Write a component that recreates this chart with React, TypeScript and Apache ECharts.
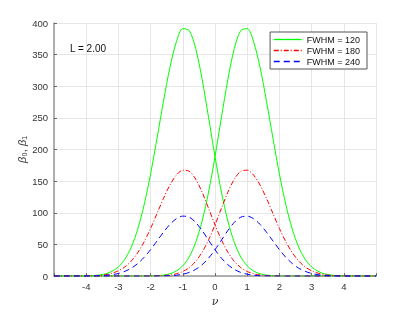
import React, { useEffect, useRef } from "react";
import * as echarts from "echarts";

const nu = [
  -5, -4.8, -4.6, -4.4, -4.2, -4, -3.8, -3.6, -3.4, -3.2, -3, -2.8, -2.6, -2.4, -2.2, -2, -1.8, -1.6, -1.4, -1.2, -1,
  -0.8, -0.6, -0.4, -0.2, 0, 0.2, 0.4, 0.6, 0.8, 1, 1.2, 1.4, 1.6, 1.8, 2, 2.2, 2.4, 2.6, 2.8, 3, 3.2, 3.4, 3.6, 3.8,
  4, 4.2, 4.4, 4.6, 4.8, 5,
];

const green0 = [
  0, 0, 0, 0, 0.1, 0.3, 0.7, 1.7, 3.6, 7.5, 14.5, 26.6, 45.7, 74.1, 112.8, 161.6, 217.8, 276.3, 329.7, 370.2, 391.1,
  388.1, 359.7, 311.0, 250.9, 188.9, 132.7, 87.0, 53.2, 30.3, 16.2, 8.0, 3.7, 1.6, 0.7, 0.2, 0.1,
  0, 0, 0, 0, 0, 0, 0, 0, 0, 0, 0, 0, 0, 0,
];
const green1 = [
  0, 0, 0, 0, 0, 0, 0, 0, 0, 0, 0, 0, 0, 0,
  0.1, 0.2, 0.7, 1.6, 3.7, 8.0, 16.2, 30.3, 53.2, 87.0, 132.7, 188.9, 250.9, 311.0, 359.7, 388.1, 391.1, 370.2, 329.7,
  276.3, 217.8, 161.6, 112.8, 74.1, 45.7, 26.6, 14.5, 7.5, 3.6, 1.7, 0.7, 0.3, 0.1, 0, 0, 0, 0,
];
const red0 = [
  0, 0, 0, 0, 0.1, 0.2, 0.5, 1.1, 2.3, 4.6, 8.4, 14.5, 23.8, 37.0, 54.3, 75.3, 98.9, 122.7, 143.9, 159.6, 167.4,
  165.6, 153.3, 132.6, 107.2, 81.0, 57.2, 37.8, 23.3, 13.5, 7.3, 3.7, 1.7, 0.8, 0.3, 0.1,
  0, 0, 0, 0, 0, 0, 0, 0, 0, 0, 0, 0, 0, 0, 0,
];
const red1 = [
  0, 0, 0, 0, 0, 0, 0, 0, 0, 0, 0, 0, 0, 0, 0,
  0.1, 0.3, 0.8, 1.7, 3.7, 7.3, 13.5, 23.3, 37.8, 57.2, 81.0, 107.2, 132.6, 153.3, 165.6, 167.4, 159.6, 143.9, 122.7,
  98.9, 75.3, 54.3, 37.0, 23.8, 14.5, 8.4, 4.6, 2.3, 1.1, 0.5, 0.2, 0.1, 0, 0, 0, 0,
];
const blue0 = [
  0, 0, 0, 0, 0, 0.1, 0.2, 0.5, 1.1, 2.2, 4.2, 7.5, 12.5, 19.9, 29.7, 41.8, 55.5, 69.4, 81.7, 90.7, 94.8,
  93.1, 84.9, 72.1, 56.8, 41.7, 28.4, 18.0, 10.6, 5.8, 3.0, 1.4, 0.6, 0.3, 0.1,
  0, 0, 0, 0, 0, 0, 0, 0, 0, 0, 0, 0, 0, 0, 0, 0,
];
const blue1 = [
  0, 0, 0, 0, 0, 0, 0, 0, 0, 0, 0, 0, 0, 0, 0, 0,
  0.1, 0.3, 0.6, 1.4, 3.0, 5.8, 10.6, 18.0, 28.4, 41.7, 56.8, 72.1, 84.9, 93.1, 94.8, 90.7, 81.7, 69.4, 55.5, 41.8,
  29.7, 19.9, 12.5, 7.5, 4.2, 2.2, 1.1, 0.5, 0.2, 0.1, 0, 0, 0, 0, 0,
];

const seriesNames = ["FWHM = 120", "FWHM = 180", "FWHM = 240"];
const annotation = "L = 2.00";

const pairs = (arr: number[]) => nu.map((x, i) => [x, arr[i]]);

export default function App() {
  const ref = useRef<HTMLDivElement>(null);
  useEffect(() => {
    if (!ref.current) return;
    const chart = echarts.init(ref.current, undefined, { renderer: "svg" });
    const font = "Liberation Sans, Arial, sans-serif";
    const mk = (name: string, data: number[], color: string, type: any) => ({
      type: "line",
      name,
      data: pairs(data),
      smooth: 0.3,
      symbol: "none",
      lineStyle: { color, width: 1, type },
      itemStyle: { color },
    });
    chart.setOption({
      animation: false,
      textStyle: { fontFamily: font },
      grid: { left: 54, right: 39, top: 23, bottom: 35 },
      legend: {
        data: seriesNames,
        orient: "vertical",
        right: 48,
        top: 32,
        padding: [3, 7, 3, 3],
        itemGap: 2,
        itemWidth: 28,
        itemHeight: 9,
        borderColor: "#555",
        borderWidth: 1,
        backgroundColor: "#fff",
        itemStyle: { opacity: 0 },
        lineStyle: { width: 1.3 },
        textStyle: { fontSize: 9, color: "#111", fontFamily: font },
      },
      xAxis: {
        type: "value",
        min: -5,
        max: 5,
        interval: 1,
        name: "ν",
        nameLocation: "middle",
        nameGap: 18,
        nameTextStyle: { fontStyle: "italic", fontSize: 11, color: "#333", fontFamily: "DejaVu Serif, serif" },
        axisLine: { onZero: false, lineStyle: { color: "#999", width: 1.5 } },
        axisTick: { inside: true, length: 3, lineStyle: { color: "#666" } },
        axisLabel: {
          formatter: (v: number) => (v === -5 || v === 5 ? "" : String(v)),
          fontSize: 9.5,
          color: "#333",
          margin: 5,
          fontFamily: font,
        },
        splitLine: { show: true, lineStyle: { color: "#e6e6e6" } },
      },
      yAxis: {
        type: "value",
        min: 0,
        max: 400,
        interval: 50,
        name: "{i|β}₀, {i|β}₁",
        nameLocation: "middle",
        nameGap: 27,
        nameMoveOverlap: false,
        nameRotate: 90,
        nameTextStyle: {
          fontSize: 11,
          color: "#333",
          fontFamily: font,
          rich: { i: { fontStyle: "italic", fontSize: 11, color: "#333", fontFamily: font } },
        },
        axisLine: { show: true, onZero: false, lineStyle: { color: "#999", width: 1.5 } },
        axisTick: { show: true, inside: true, length: 3, lineStyle: { color: "#666" } },
        axisLabel: { fontSize: 9.5, color: "#333", margin: 6, fontFamily: font },
        splitLine: { show: true, lineStyle: { color: "#e6e6e6" } },
      },
      graphic: [
        {
          type: "text",
          left: 70,
          top: 43,
          style: { text: annotation, fontSize: 10, fill: "#111", fontFamily: font },
        },
      ],
      series: [
        mk(seriesNames[0], green0, "#00ff00", "solid"),
        mk(seriesNames[0], green1, "#00ff00", "solid"),
        mk(seriesNames[1], red0, "#ff0000", [5, 2, 1, 2]),
        mk(seriesNames[1], red1, "#ff0000", [5, 2, 1, 2]),
        mk(seriesNames[2], blue0, "#0000ff", [6, 4]),
        mk(seriesNames[2], blue1, "#0000ff", [6, 4]),
      ],
    });
    return () => chart.dispose();
  }, []);
  return <div ref={ref} style={{ position: "fixed", left: 0, top: 0, width: 415, height: 312 }} />;
}
